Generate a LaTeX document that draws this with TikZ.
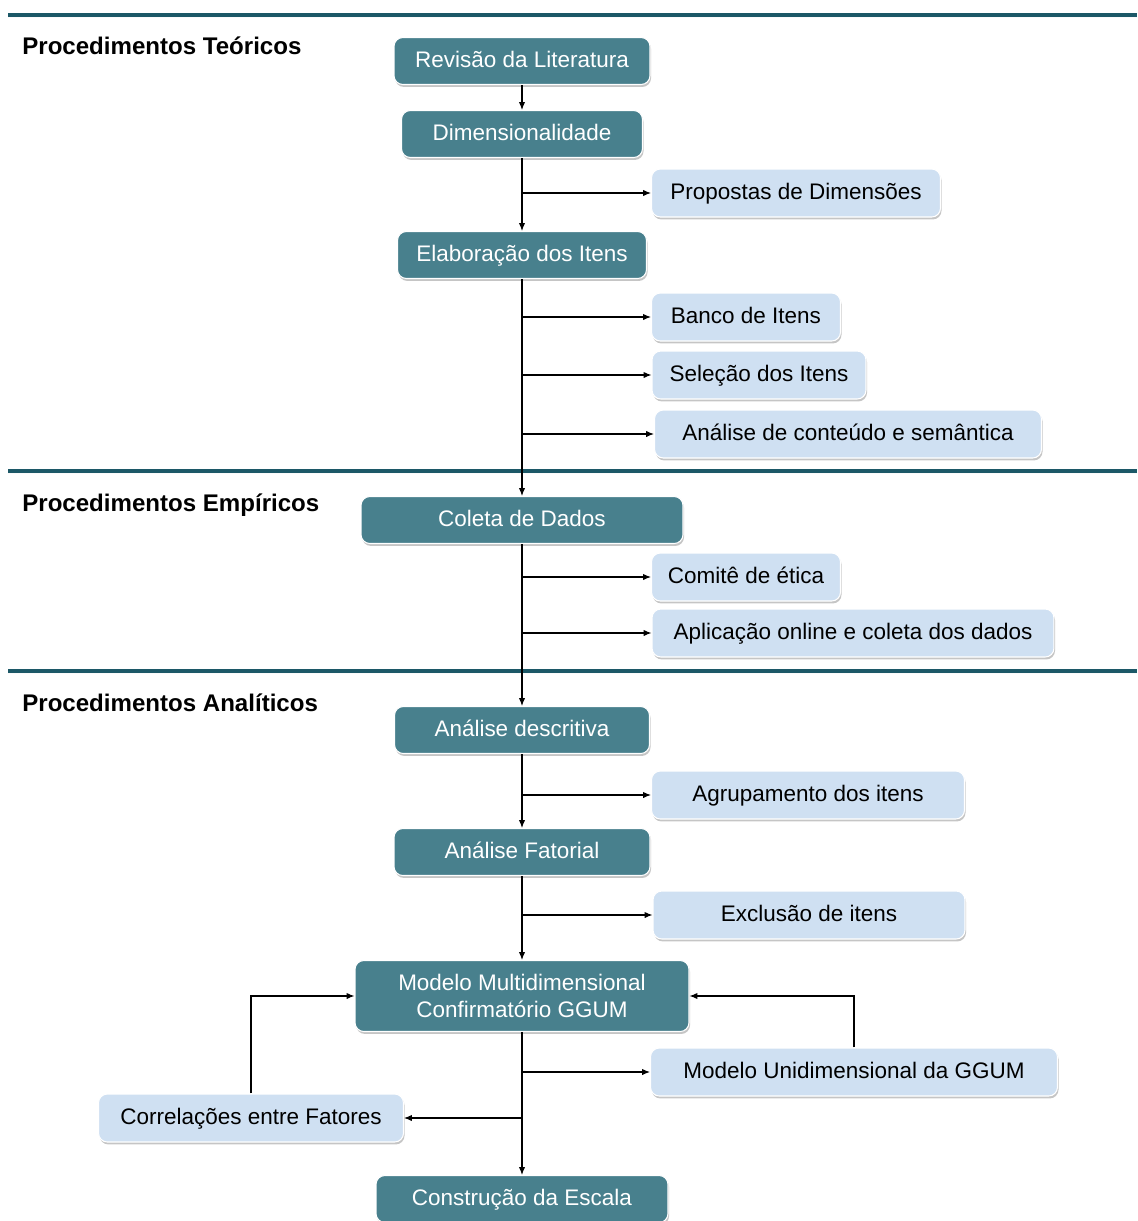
\documentclass[tikz,border=0pt]{standalone}
\usepackage{fontspec}
\setmainfont{Liberation Sans}
\usepackage{tikz}
\usetikzlibrary{arrows.meta,positioning,shadows}
\definecolor{procTeal}{RGB}{72,128,141}
\definecolor{procLight}{RGB}{207,224,242}
\definecolor{procRule}{RGB}{28,88,103}
\tikzset{
  stepbox/.style={
    rectangle, rounded corners=5pt,
    draw=white, line width=0.6pt, fill=procTeal,
    minimum width=#1, minimum height=0.94cm,
    align=center, text=white,
    font=\fontsize{12.8}{15}\selectfont,
    text height=1.4ex, text depth=0pt,
    drop shadow={shadow xshift=0.6pt, shadow yshift=-1.4pt, fill=black!45, opacity=.5}
  },
  subbox/.style={
    rectangle, rounded corners=5pt,
    draw=white, line width=0.6pt, fill=procLight,
    minimum width=#1, minimum height=0.96cm,
    align=center, text=black,
    font=\fontsize{12.8}{15}\selectfont,
    text height=1.4ex, text depth=0pt,
    drop shadow={shadow xshift=0.6pt, shadow yshift=-1.4pt, fill=black!45, opacity=.5}
  },
  phase/.style={anchor=west, inner sep=0pt, font=\fontsize{13.7}{16}\selectfont\bfseries},
  phaserule/.style={draw=procRule, line width=2.4pt,
    drop shadow={shadow xshift=0pt, shadow yshift=-1.2pt, fill=black!40, opacity=.4}},
  myarr/.style={-{Latex[length=4.5pt,width=3.6pt]}, line width=0.6pt, black},
}
\begin{document}
\begin{tikzpicture}[x=0.02cm, y=-0.02cm]
  \useasboundingbox (0,0) rectangle (1137,1221);

  % faixas das etapas
  \path[phaserule] (8,15) -- (1137,15);
  \path[phaserule] (8,471) -- (1137,471);
  \path[phaserule] (8,671) -- (1137,671);

  \node[phase] (teor) at (22,46)  {Procedimentos Teóricos};
  \node[phase] (emp)  at (22,505) {Procedimentos Empíricos};
  \node[phase] (anl)  at (22,703) {Procedimentos Analíticos};

  % procedimentos teoricos
  \node[stepbox=5.12cm] (rev)   at (522,61)  {Revisão da Literatura};
  \node[stepbox=4.82cm] (dim)   at (522,134) {Dimensionalidade};
  \node[subbox=5.78cm]  (prop)  at (796,193) {Propostas de Dimensões};
  \node[stepbox=4.98cm] (elab)  at (522,255) {Elaboração dos Itens};
  \node[subbox=3.78cm]  (banco) at (746,317) {Banco de Itens};
  \node[subbox=4.28cm]  (sel)   at (759,375) {Seleção dos Itens};
  \node[subbox=7.74cm]  (cont)  at (848,434) {Análise de conteúdo e semântica};

  % procedimentos empiricos
  \node[stepbox=6.44cm] (col)   at (522,520) {Coleta de Dados};
  \node[subbox=3.78cm]  (etica) at (746,577) {Comitê de ética};
  \node[subbox=8.04cm]  (apl)   at (853,633) {Aplicação online e coleta dos dados};

  % procedimentos analiticos
  \node[stepbox=5.10cm] (desc)  at (522,730) {Análise descritiva};
  \node[subbox=6.26cm]  (agr)   at (808,795) {Agrupamento dos itens};
  \node[stepbox=5.12cm] (fat)   at (522,852) {Análise Fatorial};
  \node[subbox=6.24cm]  (exc)   at (809,915) {Exclusão de itens};
  \node[stepbox=6.68cm, minimum height=1.42cm, text height=, text depth=] (multi) at (522,996)
        {Modelo Multidimensional\\Confirmatório GGUM};
  \node[subbox=8.14cm]  (uni)   at (854,1072) {Modelo Unidimensional da GGUM};
  \node[subbox=6.10cm]  (corr)  at (251,1118) {Correlações entre Fatores};
  \node[stepbox=5.84cm] (esc)   at (522,1199) {Construção da Escala};

  % tronco
  \draw[myarr] (rev)   -- (dim);
  \draw[myarr] (dim)   -- (elab);
  \draw[myarr] (elab)  -- (col);
  \draw[myarr] (col)   -- (desc);
  \draw[myarr] (desc)  -- (fat);
  \draw[myarr] (fat)   -- (multi);
  \draw[myarr] (multi) -- (esc);

  % ramos
  \draw[myarr] (dim.south |- prop)   -- (prop);
  \draw[myarr] (elab.south |- banco) -- (banco);
  \draw[myarr] (elab.south |- sel)   -- (sel);
  \draw[myarr] (elab.south |- cont)  -- (cont);
  \draw[myarr] (col.south |- etica)  -- (etica);
  \draw[myarr] (col.south |- apl)    -- (apl);
  \draw[myarr] (desc.south |- agr)   -- (agr);
  \draw[myarr] (fat.south |- exc)    -- (exc);
  \draw[myarr] (multi.south |- uni)  -- (uni);
  \draw[myarr] (multi.south |- corr) -- (corr);
  \draw[myarr] (uni)  |- (multi);
  \draw[myarr] (corr) |- (multi);
\end{tikzpicture}
\end{document}
